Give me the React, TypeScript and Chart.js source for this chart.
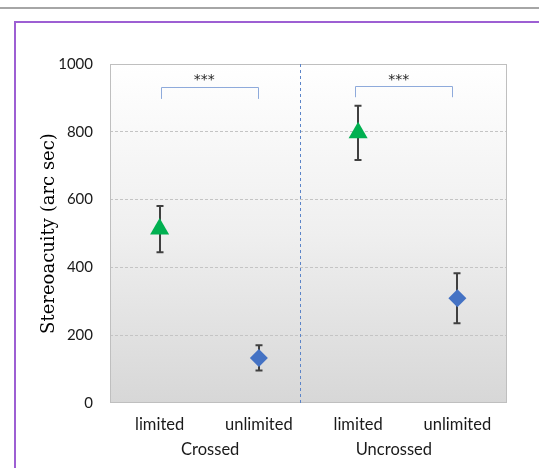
import React, { useEffect, useRef } from 'react';
import { Chart, registerables } from 'chart.js';

Chart.register(...registerables);

// ---- data ----
const categories = ['limited', 'unlimited', 'limited', 'unlimited'];
const groupLabels = ['Crossed', 'Uncrossed'];
const groupCenters = [0.51, 2.36]; // in category-index units
const limitedMean = [513, null, 797, null];
const limitedErr = [68, null, 80, null];
const unlimitedMean = [null, 133, null, 309];
const unlimitedErr = [null, 37, null, 74];
const yMin = 0;
const yMax = 1000;
const yStep = 200;
const yTitle = 'Stereoacuity (arc sec)';
const sigText = ['***', '***'];
const sigX = [0.45, 2.41];
const sigY = [959, 959];
const bracketFrom = [0.01, 1.97];
const bracketTo = [0.99, 2.95];
const bracketTop = [932, 935];
const bracketFoot = [897, 902];
const separatorAt = 1.41;

const FONT = 'Lato';

const decorPlugin = {
  id: 'decor',
  beforeDraw(chart: any) {
    const { ctx, chartArea: a, width, height } = chart;
    ctx.save();
    ctx.fillStyle = '#ffffff';
    ctx.fillRect(0, 0, width, height);
    // top gray rule
    ctx.fillStyle = '#a6a6a6';
    ctx.fillRect(0, 7, width, 2);
    // purple frame
    ctx.strokeStyle = '#9d5fd3';
    ctx.lineWidth = 2;
    ctx.beginPath();
    ctx.moveTo(15, height + 5);
    ctx.lineTo(15, 22);
    ctx.lineTo(width + 5, 22);
    ctx.stroke();
    // plot background gradient
    const g = ctx.createLinearGradient(0, a.top, 0, a.bottom);
    g.addColorStop(0, '#ffffff');
    g.addColorStop(0.5, '#efefef');
    g.addColorStop(1, '#d7d7d7');
    ctx.fillStyle = g;
    ctx.fillRect(a.left, a.top, a.right - a.left, a.bottom - a.top);
    ctx.restore();
  },
  beforeDatasetsDraw(chart: any) {
    const { ctx, chartArea: a, scales } = chart;
    const xs = scales.x;
    const ys = scales.y;
    ctx.save();
    // plot border
    ctx.strokeStyle = '#bfbfbf';
    ctx.lineWidth = 1;
    ctx.strokeRect(a.left + 0.5, a.top + 0.5, a.right - a.left - 1, a.bottom - a.top - 1);
    // group separator
    const sx = Math.round(xs.getPixelForValue(separatorAt)) + 0.5;
    ctx.strokeStyle = '#5b84c8';
    ctx.setLineDash([3, 3]);
    ctx.beginPath();
    ctx.moveTo(sx, a.top);
    ctx.lineTo(sx, a.bottom);
    ctx.stroke();
    ctx.setLineDash([]);
    // error bars
    const errs = [limitedErr, unlimitedErr];
    ctx.strokeStyle = '#404040';
    ctx.lineWidth = 2;
    chart.data.datasets.forEach((ds: any, di: number) => {
      const meta = chart.getDatasetMeta(di);
      ds.data.forEach((v: any, i: number) => {
        const e = errs[di][i];
        if (v == null || e == null) return;
        const x = Math.round(meta.data[i].x);
        const yt = ys.getPixelForValue(v + e);
        const yb = ys.getPixelForValue(v - e);
        ctx.beginPath();
        ctx.moveTo(x, yt);
        ctx.lineTo(x, yb);
        ctx.moveTo(x - 3.5, yt);
        ctx.lineTo(x + 3.5, yt);
        ctx.moveTo(x - 3.5, yb);
        ctx.lineTo(x + 3.5, yb);
        ctx.stroke();
      });
    });
    ctx.restore();
  },
  afterDraw(chart: any) {
    const { ctx, scales } = chart;
    const xs = scales.x;
    const ys = scales.y;
    ctx.save();
    // group labels
    ctx.fillStyle = '#1a1a1a';
    ctx.font = `16.5px ${FONT}`;
    ctx.textAlign = 'center';
    ctx.textBaseline = 'middle';
    groupLabels.forEach((t, i) => {
      ctx.fillText(t, xs.getPixelForValue(groupCenters[i]), 450);
    });
    // significance brackets
    ctx.strokeStyle = '#8eaadb';
    ctx.lineWidth = 1;
    bracketFrom.forEach((f, i) => {
      const x1 = Math.round(xs.getPixelForValue(f)) + 0.5;
      const x2 = Math.round(xs.getPixelForValue(bracketTo[i])) + 0.5;
      const yt = Math.round(ys.getPixelForValue(bracketTop[i])) + 0.5;
      const yb = ys.getPixelForValue(bracketFoot[i]);
      ctx.beginPath();
      ctx.moveTo(x1, yb);
      ctx.lineTo(x1, yt);
      ctx.lineTo(x2, yt);
      ctx.lineTo(x2, yb);
      ctx.stroke();
    });
    ctx.fillStyle = '#262626';
    ctx.font = `14px "DejaVu Sans"`;
    sigText.forEach((t, i) => {
      ctx.fillText(t, xs.getPixelForValue(sigX[i]), ys.getPixelForValue(sigY[i]) + 2);
    });
    ctx.restore();
  },
};

export default function App() {
  const ref = useRef<HTMLCanvasElement | null>(null);
  useEffect(() => {
    if (!ref.current) return;
    const chart = new Chart(ref.current, {
      type: 'line',
      data: {
        labels: categories,
        datasets: [
          {
            label: 'limited',
            data: limitedMean as any,
            showLine: false,
            pointStyle: 'triangle',
            pointRadius: 11,
            pointBackgroundColor: '#00b050',
            pointBorderColor: '#00b050',
            pointBorderWidth: 0,
          },
          {
            label: 'unlimited',
            data: unlimitedMean as any,
            showLine: false,
            pointStyle: 'rectRot',
            pointRadius: 9,
            pointBackgroundColor: '#4472c4',
            pointBorderColor: '#4472c4',
            pointBorderWidth: 0,
          },
        ],
      },
      options: {
        animation: false,
        responsive: false,
        devicePixelRatio: 1,
        layout: { padding: { left: 0, top: 64, right: 32, bottom: 0 } },
        plugins: { legend: { display: false }, tooltip: { enabled: false } },
        scales: {
          x: {
            type: 'category',
            offset: true,
            grid: { display: false, drawTicks: false },
            border: { display: false },
            ticks: {
              font: { family: FONT, size: 16.5 },
              color: '#1a1a1a',
              padding: 12,
              maxRotation: 0,
              autoSkip: false,
            },
            afterFit: (s: any) => {
              s.height = 65;
            },
          },
          y: {
            min: yMin,
            max: yMax,
            ticks: {
              stepSize: yStep,
              font: { family: FONT, size: 15 },
              color: '#1a1a1a',
              padding: 17,
              callback: (v: any) => String(v),
            },
            grid: {
              drawTicks: false,
              lineWidth: 1,
              color: (c: any) =>
                c.tick && (c.tick.value === yMin || c.tick.value === yMax)
                  ? 'rgba(0,0,0,0)'
                  : '#c4c4c4',
            },
            border: { display: false, dash: [3, 2] },
            title: {
              display: true,
              text: yTitle,
              font: { family: 'DejaVu Serif', size: 18 },
              color: '#000000',
              padding: { top: 39, bottom: 0 },
            },
            afterFit: (s: any) => {
              s.width = 110;
            },
          },
        },
      },
      plugins: [decorPlugin],
    });
    return () => chart.destroy();
  }, []);
  return (
    <div style={{ position: 'fixed', left: 0, top: 0, width: 539, height: 468 }}>
      <canvas ref={ref} width={539} height={468} style={{ width: 539, height: 468, display: 'block' }} />
    </div>
  );
}
